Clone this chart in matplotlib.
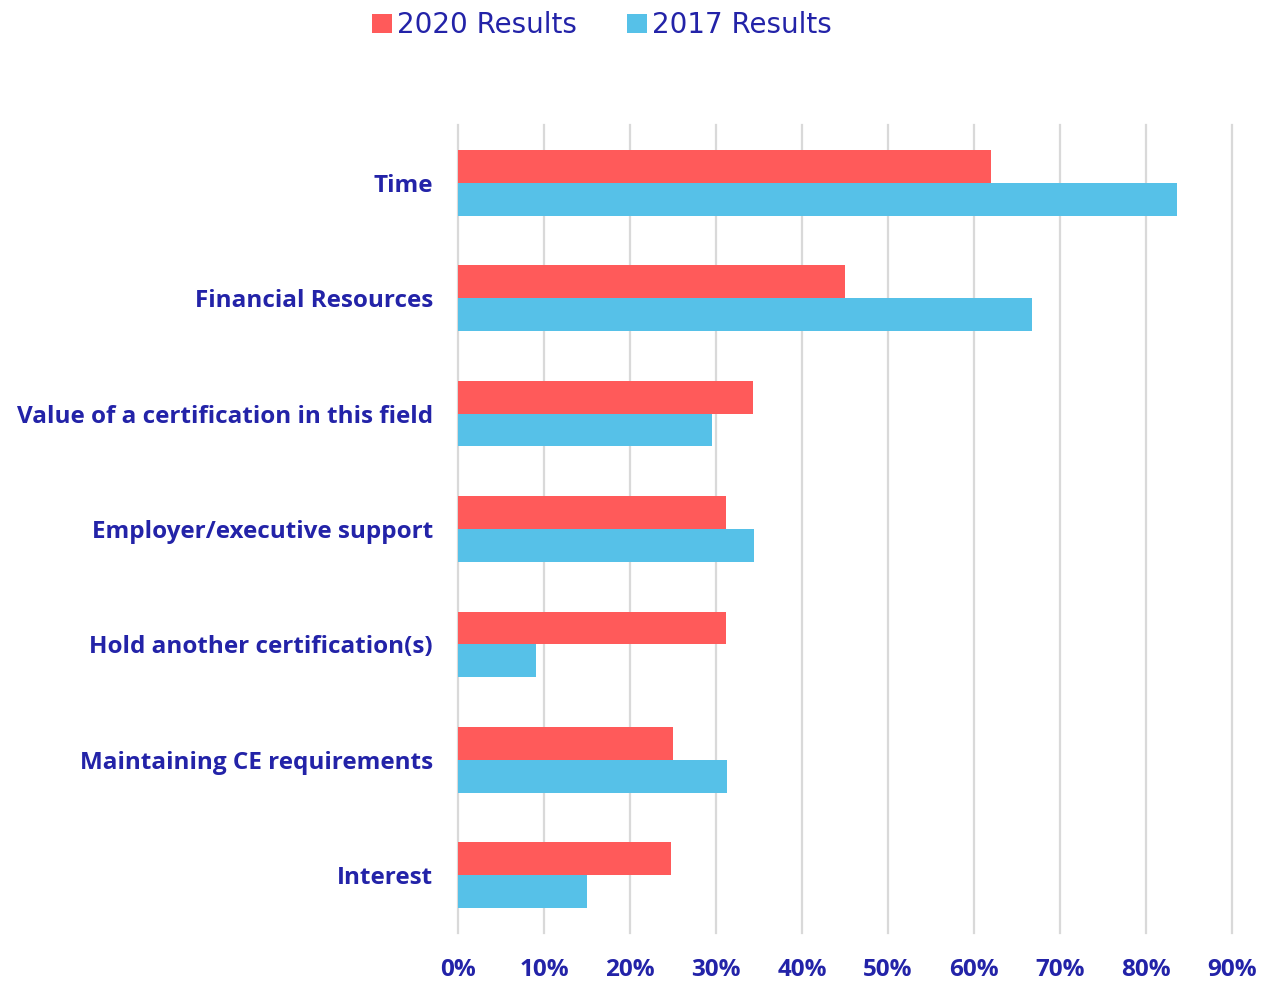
import matplotlib.pyplot as plt
import numpy as np
from matplotlib.ticker import PercentFormatter

categories = ['Time', 'Financial Resources', 'Value of a certification in this field',
              'Employer/executive support', 'Hold another certification(s)',
              'Maintaining CE requirements', 'Interest']
results_2020 = [62.0, 45.0, 34.3, 31.2, 31.2, 25.0, 24.8]
results_2017 = [83.6, 66.7, 29.5, 34.4, 9.1, 31.3, 15.0]

red = '#FF5A5A'
blue = '#56C1E8'
txt = '#2323A8'

fig = plt.figure(figsize=(12.81, 9.82), dpi=100)
ax = fig.add_axes([0.3575, 0.0499, 0.9618 - 0.3575, 0.8727 - 0.0499])

y = np.arange(len(categories))
h = 0.285
ax.barh(y - h / 2, results_2020, height=h, color=red, label='2020 Results', zorder=3)
ax.barh(y + h / 2, results_2017, height=h, color=blue, label='2017 Results', zorder=3)

ax.set_xlim(0, 90)
ax.set_ylim(len(categories) - 0.5, -0.5)
ax.set_xticks(np.arange(0, 91, 10))
ax.xaxis.set_major_formatter(PercentFormatter(decimals=0))
ax.set_yticks(y)
ax.set_yticklabels(categories)

ax.grid(axis='x', color='#D9D9D9', linewidth=1.6, zorder=0)
for gl in ax.get_xgridlines():
    gl.set_clip_on(False)
for s in ax.spines.values():
    s.set_visible(False)
ax.tick_params(axis='both', length=0)
ax.tick_params(axis='x', pad=18)
ax.tick_params(axis='y', pad=18)

for lab in ax.get_xticklabels() + ax.get_yticklabels():
    lab.set_fontfamily('Open Sans')
    lab.set_fontweight('bold')
    lab.set_fontsize(17.5)
    lab.set_color(txt)

leg = fig.legend(loc='upper center', bbox_to_anchor=(0.47, 1.014), ncol=2, frameon=False,
                 handlelength=0.7, handleheight=0.7, handletextpad=0.2,
                 columnspacing=1.8, prop={'family': 'DejaVu Sans', 'size': 20})
for t in leg.get_texts():
    t.set_color(txt)

fig.savefig('out.png', dpi=100)
